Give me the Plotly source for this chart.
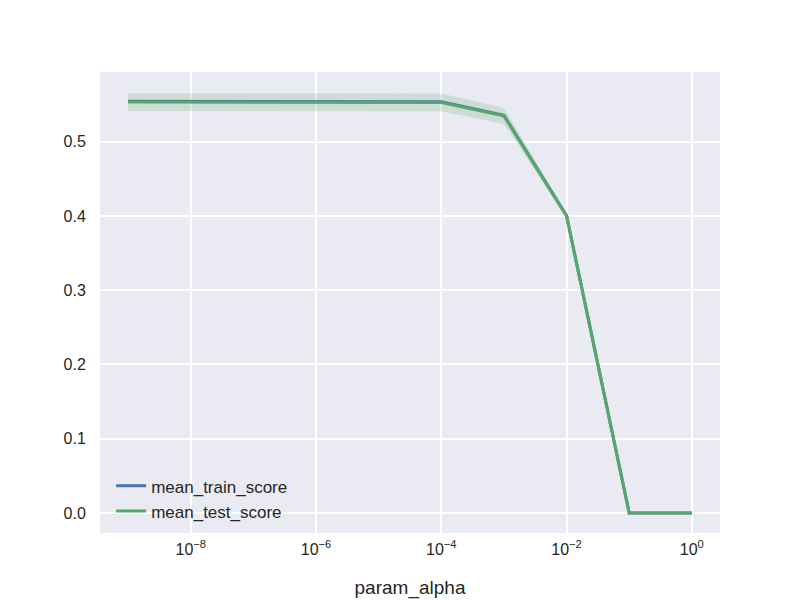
import plotly.graph_objects as go

param_alpha = [1e-9, 1e-8, 1e-7, 1e-6, 1e-5, 1e-4, 1e-3, 1e-2, 1e-1, 1e0]
mean_train_score = [0.5545, 0.5545, 0.5545, 0.5545, 0.5545, 0.5540, 0.5355, 0.4005, 0.0, 0.0]
mean_test_score = [0.5535, 0.5535, 0.5535, 0.5535, 0.5535, 0.5530, 0.5350, 0.4000, 0.0, 0.0]
std_test_score = [0.012, 0.012, 0.012, 0.012, 0.012, 0.012, 0.011, 0.003, 0.0, 0.0]
tick_vals = [1e-8, 1e-6, 1e-4, 1e-2, 1e0]
tick_text = ["10<sup>−8</sup>", "10<sup>−6</sup>", "10<sup>−4</sup>", "10<sup>−2</sup>", "10<sup>0</sup>"]
y_ticks = [0.0, 0.1, 0.2, 0.3, 0.4, 0.5]

upper = [m + s for m, s in zip(mean_test_score, std_test_score)]
lower = [m - s for m, s in zip(mean_test_score, std_test_score)]

fig = go.Figure()
fig.add_trace(go.Scatter(
    x=param_alpha + param_alpha[::-1], y=upper + lower[::-1],
    fill="toself", fillcolor="rgba(85,168,104,0.2)", line=dict(width=0),
    mode="lines", showlegend=False, hoverinfo="skip"))
fig.add_trace(go.Scatter(x=param_alpha, y=mean_train_score, mode="lines",
                         name="mean_train_score", line=dict(color="#4C72B0", width=3)))
fig.add_trace(go.Scatter(x=param_alpha, y=mean_test_score, mode="lines",
                         name="mean_test_score", line=dict(color="#55A868", width=3)))

fig.update_layout(
    width=800, height=600,
    paper_bgcolor="white", plot_bgcolor="#EAEAF2",
    margin=dict(l=92, r=88, t=64, b=75),
    font=dict(family="Liberation Sans, Arial, sans-serif", size=16, color="#262626"),
    legend=dict(x=0.018, y=0.008, xanchor="left", yanchor="bottom",
                bgcolor="rgba(0,0,0,0)", font=dict(size=17), tracegroupgap=0),
    xaxis=dict(type="log", range=[-9.45, 0.45], tickvals=tick_vals, ticktext=tick_text,
               showgrid=True, gridcolor="white", gridwidth=1.5, zeroline=False, automargin=False,
               showline=False, ticks="outside", ticklen=2, tickcolor="rgba(0,0,0,0)",
               tickfont=dict(size=16),
               title=dict(text="param_alpha", font=dict(size=19), standoff=23)),
    yaxis=dict(range=[-0.027, 0.594], tickvals=y_ticks, ticktext=["0.0", "0.1", "0.2", "0.3", "0.4", "0.5"],
               showgrid=True, gridcolor="white", gridwidth=1.5, zeroline=False, automargin=False,
               showline=False, ticks="outside", ticklen=10, tickcolor="rgba(0,0,0,0)",
               tickfont=dict(size=16)),
)
fig.write_html("out.html")
